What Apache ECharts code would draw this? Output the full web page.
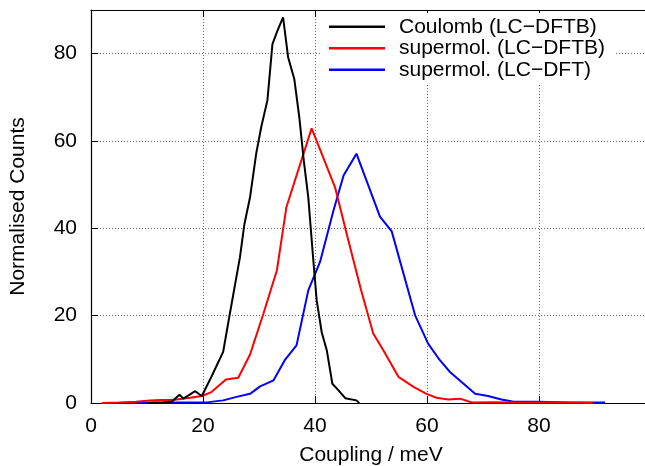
<!DOCTYPE html>
<html>
<head>
<meta charset="utf-8">
<script src="https://cdn.jsdelivr.net/npm/echarts@6/dist/echarts.min.js"></script>
<style>html,body{margin:0;padding:0;background:#fff}#c{width:645px;height:466px}</style>
</head>
<body>
<div id="c"></div>
<script>
const seriesNames = ['Coulomb (LC\u2212DFTB)', 'supermol. (LC\u2212DFTB)', 'supermol. (LC\u2212DFT)'];
const xTicks = [0, 20, 40, 60, 80];
const yTicks = [0, 20, 40, 60, 80];
const coulombData = [[10,0],[13,0.1],[14.4,0.3],[15.8,1.9],[16.5,1],[18.6,2.7],[19.8,1.6],[21.5,6],[23.6,11.7],[24.8,20.5],[26.6,33.4],[27.4,41],[28.4,47.1],[29.5,57.1],[30.4,63.2],[31.5,69.3],[32.4,82.2],[33.3,85.3],[34.3,88.3],[35.2,79.2],[36.3,74.2],[37.2,65.4],[38,55.5],[38.8,47.1],[39.7,32.7],[40.3,23.5],[41.2,16.2],[42.1,12.1],[43.1,4.4],[44.2,2.9],[45.4,1.1],[47.4,0.6],[47.9,0]];
const lcdftbData = [[1.9,0],[5,0.1],[8,0.3],[10.5,0.6],[12.5,0.7],[14.6,0.7],[17.7,1.2],[19.8,1.6],[21.5,2.5],[24.1,5.4],[26.3,5.8],[28.4,11.1],[30.8,20.5],[33.2,30.4],[34.9,44.9],[39.4,62.9],[43.6,49.3],[45.8,38],[48.2,26],[50.4,15.9],[52.2,12.1],[54.9,6],[57.6,3.7],[59.9,2.1],[61.7,1.2],[63.8,0.8],[65.9,1.0],[68,0.1],[72,0.2],[76,0.1],[80,0.1],[85,0.1],[89.6,0]];
const lcdftData = [[7,0],[12,0.1],[17,0.1],[21,0.2],[23.6,0.6],[26,1.4],[28.4,2.1],[30.2,3.8],[32.6,5.2],[34.6,9.8],[36.7,13.2],[38.8,25.8],[40.9,32.3],[43.3,44.1],[45.1,52.1],[47.4,57.1],[51.6,42.7],[53.7,39.3],[57.9,20],[60.2,13.6],[62.3,9.8],[64.1,7.1],[68.6,2.1],[70.9,1.6],[73.3,0.8],[75.5,0.3],[80,0.3],[85,0.1],[91.8,0.1]];
const colors = ['#000000', '#ff0000', '#0000ff'];
const xMax = 100;

const FONT = 'Liberation Sans, Arial, sans-serif';
const chart = echarts.init(document.getElementById('c'), null, {renderer: 'canvas'});
const gridLine = {show: true, lineStyle: {color: '#666', type: [1, 2], width: 1}};
chart.setOption({
  animation: false,
  backgroundColor: '#fff',
  grid: {left: 91, right: -6, top: 10, bottom: 63, containLabel: false, outerBoundsMode: 'none'},
  legend: {
    orient: 'vertical', left: 321, top: 13, padding: [3, 10, 3, 8],
    backgroundColor: '#fff', itemGap: 0, itemWidth: 56, itemHeight: 2.5,
    icon: 'rect', z: 10,
    textStyle: {fontFamily: FONT, fontSize: 21, color: '#000', lineHeight: 21.5, padding: [0, 0, 0, 9]},
    data: seriesNames
  },
  xAxis: [{
    type: 'value', min: 0, max: xMax, interval: 20,
    name: 'Coupling / meV', nameLocation: 'middle', nameGap: 42,
    nameTextStyle: {fontFamily: FONT, fontSize: 21, color: '#000'},
    axisLine: {show: true, onZero: false, lineStyle: {color: '#000', width: 1.2}},
    axisTick: {show: true, inside: true, length: 7, lineStyle: {color: '#000', width: 1}},
    axisLabel: {fontFamily: FONT, fontSize: 21, color: '#000', margin: 13,
      formatter: v => (xTicks.indexOf(v) >= 0 ? String(v) : '')},
    splitLine: gridLine
  }, {
    type: 'value', min: 0, max: xMax, interval: 20, position: 'top',
    axisLine: {show: true, onZero: false, lineStyle: {color: '#000', width: 1.2}},
    axisTick: {show: true, inside: true, length: 7, lineStyle: {color: '#000', width: 1}},
    axisLabel: {show: false}, splitLine: {show: false}
  }],
  yAxis: [{
    type: 'value', min: 0, max: 90, interval: 20,
    name: 'Normalised Counts', nameLocation: 'middle', nameGap: 62,
    nameTextStyle: {fontFamily: FONT, fontSize: 21, color: '#000'},
    axisLine: {show: true, onZero: false, lineStyle: {color: '#000', width: 1.2}},
    axisTick: {show: true, inside: true, length: 7, lineStyle: {color: '#000', width: 1}},
    axisLabel: {fontFamily: FONT, fontSize: 21, color: '#000', margin: 14,
      formatter: v => (yTicks.indexOf(v) >= 0 ? String(v) : '')},
    splitLine: gridLine
  }],
  series: [
    {name: seriesNames[0], type: 'line', data: coulombData, showSymbol: false, color: colors[0], lineStyle: {width: 2, color: colors[0]}, z: 4},
    {name: seriesNames[1], type: 'line', data: lcdftbData, showSymbol: false, color: colors[1], lineStyle: {width: 2, color: colors[1]}, z: 3},
    {name: seriesNames[2], type: 'line', data: lcdftData, showSymbol: false, color: colors[2], lineStyle: {width: 2, color: colors[2]}, z: 2}
  ]
});
</script>
</body>
</html>
